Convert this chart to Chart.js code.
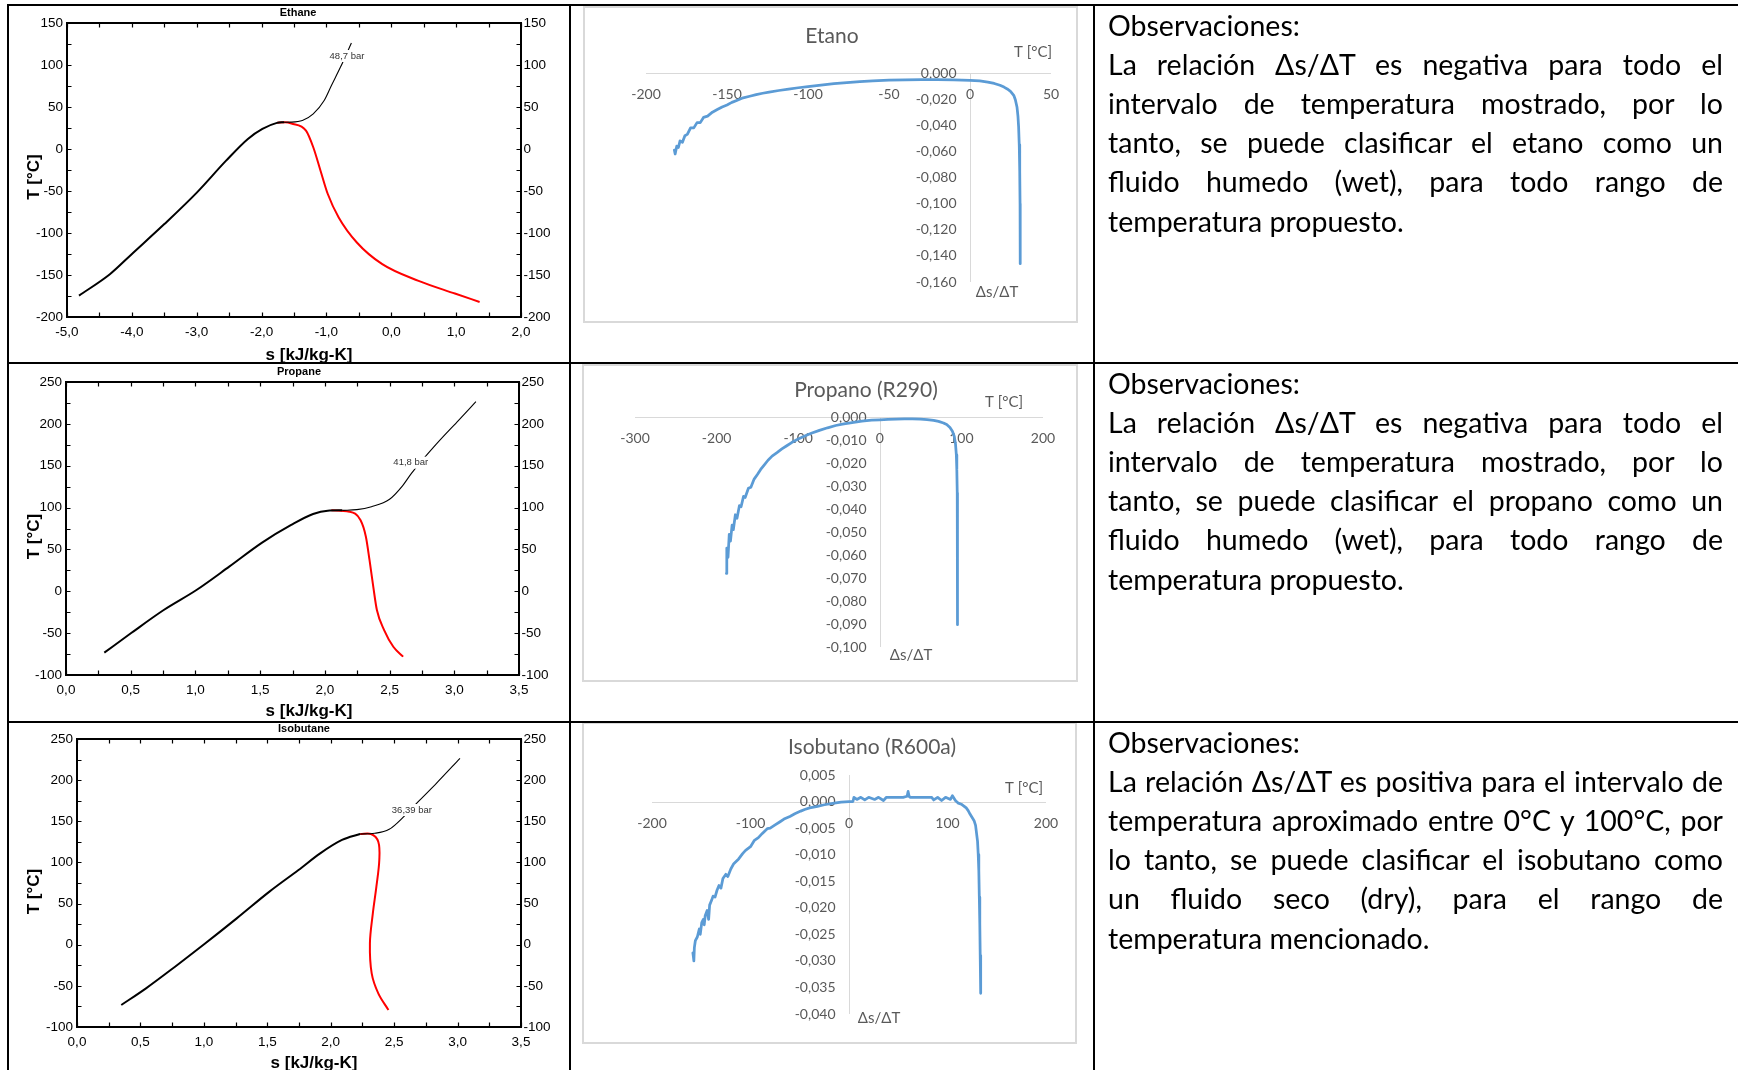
<!DOCTYPE html>
<html lang="es">
<head>
<meta charset="utf-8">
<title>Diagramas T-s y relación Δs/ΔT</title>
<script src="https://cdn.jsdelivr.net/npm/chart.js@4.4.1/dist/chart.umd.min.js"></script>
<style>
  html, body { margin: 0; padding: 0; background: #fff; }
  body { width: 1738px; height: 1070px; position: relative; overflow: hidden; }
  canvas { position: absolute; left: 0; top: 0; }
  .rule { position: absolute; background: #000; z-index: 5; }
  .obs { position: absolute; left: 1108px; width: 615px; z-index: 6;
         font-family: Lato, "Open Sans", sans-serif; font-size: 28.5px; line-height: 39.2px; color: #000; }
  .obs div { white-space: nowrap; }
  .obs .j { white-space: normal; text-align: justify; text-align-last: justify; }
</style>
</head>
<body>
<canvas id="cEthane" width="1738" height="1070"></canvas>
<canvas id="cPropane" width="1738" height="1070"></canvas>
<canvas id="cIsobutane" width="1738" height="1070"></canvas>
<canvas id="cEtano" width="1738" height="1070"></canvas>
<canvas id="cPropano" width="1738" height="1070"></canvas>
<canvas id="cIsobutano" width="1738" height="1070"></canvas>

<!-- table rules -->
<div class="rule" style="left:7px;top:4px;width:1731px;height:2px"></div>
<div class="rule" style="left:7px;top:362px;width:1731px;height:2px"></div>
<div class="rule" style="left:7px;top:721px;width:1731px;height:2px"></div>
<div class="rule" style="left:7px;top:4px;width:2px;height:1066px"></div>
<div class="rule" style="left:569px;top:4px;width:2px;height:1066px"></div>
<div class="rule" style="left:1093px;top:4px;width:2px;height:1066px"></div>

<div class="obs" style="top:5.5px">
  <div>Observaciones:</div>
  <div class="j">La relación Δs/ΔT es negativa para todo el</div>
  <div class="j">intervalo de temperatura mostrado, por lo</div>
  <div class="j">tanto, se puede clasificar el etano como un</div>
  <div class="j">fluido humedo (wet), para todo rango de</div>
  <div>temperatura propuesto.</div>
</div>
<div class="obs" style="top:363.5px">
  <div>Observaciones:</div>
  <div class="j">La relación Δs/ΔT es negativa para todo el</div>
  <div class="j">intervalo de temperatura mostrado, por lo</div>
  <div class="j">tanto, se puede clasificar el propano como un</div>
  <div class="j">fluido humedo (wet), para todo rango de</div>
  <div>temperatura propuesto.</div>
</div>
<div class="obs" style="top:722.5px">
  <div>Observaciones:</div>
  <div class="j">La relación Δs/ΔT es positiva para el intervalo de</div>
  <div class="j">temperatura aproximado entre 0°C y 100°C, por</div>
  <div class="j">lo tanto, se puede clasificar el isobutano como</div>
  <div class="j">un fluido seco (dry), para el rango de</div>
  <div>temperatura mencionado.</div>
</div>

<script>
// ---------- T-s diagrams: s [kJ/kg-K] vs T [°C] ----------
// Ethane
const ethaneLiqS = [-4.815, -4.339, -4.003, -3.499, -2.995, -2.547, -2.211, -1.987, -1.763, -1.65];
const ethaneLiqT = [-174.5, -149.1, -125.2, -89.4, -51.6, -13.9, 12.0, 23.9, 31.1, 31.9];
const ethaneVapS = [-1.76, -1.64, -1.539, -1.315, -1.203, -1.091, -0.979, -0.811, -0.531, -0.139, 0.421, 0.981, 1.362];
const ethaneVapT = [31.3, 31.8, 30.3, 21.9, 2.1, -25.8, -53.6, -81.5, -111.3, -137.1, -157.0, -172.1, -182.1];
const ethaneIsoS = [-1.65, -1.55, -1.371, -1.203, -1.035, -0.923, -0.783, -0.615];
const ethaneIsoT = [31.9, 32.0, 33.9, 41.8, 57.7, 75.6, 97.5, 126.1];
const ethaneXTicks = [-5, -4, -3, -2, -1, 0, 1, 2];
const ethaneYTicks = [-200, -150, -100, -50, 0, 50, 100, 150];

// Propane
const propaneLiqS = [0.296, 0.501, 0.755, 1.008, 1.261, 1.515, 1.740, 1.909, 2.022, 2.134];
const propaneLiqT = [-73.3, -50.2, -22.4, 1.5, 29.4, 58.1, 79.2, 92.3, 96.3, 96.7];
const propaneVapS = [2.05, 2.19, 2.275, 2.317, 2.345, 2.374, 2.402, 2.458, 2.529, 2.605];
const propaneVapT = [96.7, 95.1, 85.1, 65.2, 37.4, 5.5, -22.4, -46.3, -66.2, -78.1];
const propaneIsoS = [2.134, 2.247, 2.360, 2.50, 2.60, 2.669, 2.866, 3.035, 3.167];
const propaneIsoT = [96.7, 97.5, 101.1, 110.0, 126.0, 140.9, 176.7, 204.6, 226.5];
const propaneXTicks = [0, 0.5, 1, 1.5, 2, 2.5, 3, 3.5];
const propaneYTicks = [-100, -50, 0, 50, 100, 150, 200, 250];

// Isobutane
const isobutaneLiqS = [0.349, 0.544, 0.773, 1.002, 1.259, 1.517, 1.746, 1.917, 2.089, 2.232];
const isobutaneLiqT = [-73.3, -53.0, -26.7, 0.5, 32.0, 64.5, 90.8, 111.0, 127.3, 134.5];
const isobutaneVapS = [2.232, 2.318, 2.375, 2.383, 2.360, 2.332, 2.309, 2.323, 2.375, 2.455];
const isobutaneVapT = [134.5, 134.5, 125.2, 103.0, 70.5, 38.1, 1.7, -34.8, -59.1, -79.3];
const isobutaneIsoS = [2.232, 2.347, 2.461, 2.576, 2.690, 2.833, 3.019];
const isobutaneIsoT = [134.5, 135.4, 140.2, 155.6, 173.8, 196.1, 226.5];
const isobutaneXTicks = [0, 0.5, 1, 1.5, 2, 2.5, 3, 3.5];
const isobutaneYTicks = [-100, -50, 0, 50, 100, 150, 200, 250];

// ---------- Δs/ΔT vs T [°C] ----------
const etanoT = [-182.5, -182, -181, -180, -179, -177.5, -176, -174.5, -172.5, -170.5, -168.5, -166.5, -164.5, -162,
  -159, -156, -153, -150, -147, -144, -140, -136, -132, -128, -124, -118, -112, -106, -100, -92, -84, -76, -68, -60,
  -50, -40, -30, -20, -10, 0, 6, 11, 15, 18.5, 21, 23, 25, 27, 28, 29, 29.6, 30, 30.4, 30.7, 30.9, 31];
const etanoDsDt = [-0.059, -0.062, -0.056, -0.057, -0.052, -0.053, -0.048, -0.047, -0.042, -0.042, -0.038, -0.038,
  -0.034, -0.033, -0.030, -0.028, -0.026, -0.0245, -0.0225, -0.021, -0.019, -0.0178, -0.0166, -0.0155, -0.0146,
  -0.0134, -0.0123, -0.0113, -0.0104, -0.0092, -0.0081, -0.0073, -0.0066, -0.0060, -0.0055, -0.0052, -0.0050,
  -0.0051, -0.0053, -0.0056, -0.0061, -0.0070, -0.0080, -0.0094, -0.0108, -0.0122, -0.0140, -0.0171, -0.0205,
  -0.0260, -0.033, -0.041, -0.055, -0.075, -0.100, -0.146];
const etanoXTicks = [-200, -150, -100, -50, 0, 50];
const etanoYTicks = [0, -0.02, -0.04, -0.06, -0.08, -0.10, -0.12, -0.14, -0.16];

const propanoT = [-188, -187.5, -186, -184.5, -183, -181, -179.5, -177, -175, -172, -170, -167, -165, -161, -158,
  -154, -150, -146, -142, -137, -132, -126, -120, -114, -108, -100, -92, -84, -74, -64, -54, -44, -34, -22, -10, 0,
  10, 20, 30, 40, 50, 58, 66, 72, 78, 82, 86, 89, 91.3, 92.8, 93.8, 94.4, 94.9, 95.1, 95.3];
const propanoDsDt = [-0.068, -0.057, -0.061, -0.051, -0.054, -0.047, -0.049, -0.0425, -0.044, -0.0385, -0.039,
  -0.0345, -0.035, -0.031, -0.0305, -0.027, -0.025, -0.0228, -0.0210, -0.0188, -0.0170, -0.0155, -0.0139, -0.0125,
  -0.0111, -0.0096, -0.0083, -0.0071, -0.0058, -0.0047, -0.0037, -0.0030, -0.0024, -0.0018, -0.0014, -0.0012,
  -0.0010, -0.0009, -0.0008, -0.0008, -0.0009, -0.0011, -0.0015, -0.0019, -0.0026, -0.0033, -0.0046, -0.0062,
  -0.0085, -0.0118, -0.0165, -0.0230, -0.0330, -0.0500, -0.0903];
const propanoXTicks = [-300, -200, -100, 0, 100, 200];
const propanoYTicks = [0, -0.01, -0.02, -0.03, -0.04, -0.05, -0.06, -0.07, -0.08, -0.09, -0.10];

const isobutanoT = [-158.5, -158, -157.5, -157, -156, -154, -152, -151, -149.5, -148, -147, -146, -144, -142.5,
  -141.5, -139.5, -138, -136, -134, -132, -130, -128, -125, -123, -120, -117, -112, -108, -105, -100, -96, -92,
  -88, -83, -80, -75, -70, -66, -60, -55, -49, -45, -40, -32, -25, -15, -8, 0, 4, 5, 8, 12, 16, 20, 26, 30, 35,
  38, 45, 55, 59, 60, 61, 62, 75, 84, 86, 90, 94, 98, 103, 105, 108, 111, 114, 117, 119, 121, 123, 125, 127,
  128.5, 129.5, 130.5, 131.2, 131.8, 132.3, 132.8, 133.2, 133.7];
const isobutanoDsDt = [-0.0285, -0.0292, -0.0300, -0.0275, -0.0262, -0.0255, -0.0240, -0.0250, -0.0228, -0.0222,
  -0.0232, -0.0215, -0.0205, -0.0222, -0.0195, -0.0186, -0.0178, -0.0180, -0.0167, -0.0158, -0.0163, -0.0145,
  -0.0137, -0.0141, -0.0127, -0.0117, -0.0108, -0.0098, -0.0092, -0.0085, -0.0073, -0.0068, -0.0060, -0.0051,
  -0.0050, -0.0044, -0.0038, -0.0033, -0.0028, -0.0023, -0.0018, -0.0015, -0.0012, -0.0009, -0.0006, -0.0003,
  -0.0001, 0.0000, 0.0000, 0.0008, 0.0004, 0.0008, 0.0003, 0.0008, 0.0004, 0.0008, 0.0002, 0.0008, 0.0008,
  0.0008, 0.0010, 0.0019, 0.0010, 0.0008, 0.0008, 0.0008, 0.0003, 0.0008, 0.0002, 0.0008, 0.0004, 0.0011,
  0.0002, -0.0003, -0.0005, -0.0009, -0.0012, -0.0017, -0.0024, -0.0030, -0.0036, -0.0045, -0.0060, -0.0075,
  -0.0100, -0.0130, -0.0180, -0.0230, -0.0290, -0.0361];
const isobutanoXTicks = [-200, -100, 0, 100, 200];
const isobutanoYTicks = [0.005, 0, -0.005, -0.01, -0.015, -0.02, -0.025, -0.03, -0.035, -0.04];

// ---------- helpers ----------
const W = 1738, H = 1070;
const pts = (xs, ys) => xs.map((x, i) => ({ x, y: ys[i] }));
const padFor = (r) => ({ left: r[0], top: r[1], right: W - r[2], bottom: H - r[3] });
const comma = (v, d) => v.toFixed(d).replace('.', ',');
const SANS = '"Liberation Sans", Arial, sans-serif';
const LATO = 'Lato, "Open Sans", sans-serif';

// ticks at every label plus one between each pair
function withMinor(ticks) {
  const out = [];
  ticks.forEach((v, i) => {
    out.push(v);
    if (i < ticks.length - 1) out.push((v + ticks[i + 1]) / 2);
  });
  return out;
}

// EES-style boxed frame with inward ticks on all four sides
const eesDecor = {
  id: 'eesDecor',
  afterDatasetsDraw(chart, args, o) {
    const { ctx, chartArea: a, scales: { x, y } } = chart;
    ctx.save();

    // isobar label with a white knock-out behind it
    ctx.font = '9.5px ' + SANS;
    const lx = x.getPixelForValue(o.pLabel[0]), ly = y.getPixelForValue(o.pLabel[1]);
    const tw = ctx.measureText(o.pText).width;
    ctx.fillStyle = '#fff';
    ctx.fillRect(lx - tw / 2 - 1.5, ly - 6, tw + 3, 12);
    ctx.fillStyle = '#333';
    ctx.textAlign = 'center';
    ctx.textBaseline = 'middle';
    ctx.fillText(o.pText, lx, ly);

    ctx.strokeStyle = '#000';
    ctx.lineWidth = 2;
    ctx.strokeRect(a.left, a.top, a.right - a.left, a.bottom - a.top);

    ctx.lineWidth = 1.2;
    ctx.beginPath();
    withMinor(o.xTicks).forEach(v => {
      const px = Math.round(x.getPixelForValue(v)) + 0.5;
      ctx.moveTo(px, a.bottom); ctx.lineTo(px, a.bottom - 4.5);
      ctx.moveTo(px, a.top); ctx.lineTo(px, a.top + 4.5);
    });
    withMinor(o.yTicks).forEach(v => {
      const py = Math.round(y.getPixelForValue(v)) + 0.5;
      ctx.moveTo(a.left, py); ctx.lineTo(a.left + 4.5, py);
      ctx.moveTo(a.right, py); ctx.lineTo(a.right - 4.5, py);
    });
    ctx.stroke();

    ctx.fillStyle = '#000';
    ctx.font = '13.5px ' + SANS;
    ctx.textBaseline = 'middle';
    ctx.textAlign = 'center';
    o.xTicks.forEach(v => ctx.fillText(comma(v, 1), x.getPixelForValue(v), a.bottom + 15.5));
    ctx.textAlign = 'right';
    o.yTicks.forEach(v => ctx.fillText(String(v), a.left - 4, y.getPixelForValue(v)));
    ctx.textAlign = 'left';
    o.yTicks.forEach(v => ctx.fillText(String(v), a.right + 2.5, y.getPixelForValue(v)));

    ctx.textAlign = 'center';
    ctx.font = 'bold 11px ' + SANS;
    ctx.fillText(o.title, o.titleAt[0], o.titleAt[1]);
    ctx.font = 'bold 17px ' + SANS;
    ctx.fillText('s [kJ/kg-K]', o.xTitleAt[0], o.xTitleAt[1]);
    ctx.translate(o.yTitleAt[0], o.yTitleAt[1]);
    ctx.rotate(-Math.PI / 2);
    ctx.fillText('T [°C]', 0, 0);
    ctx.restore();
  }
};

// curves that run left to right use monotone interpolation; the folded
// isobutane vapour line uses plain bezier tension
const smooth = (monotone) => monotone ? { cubicInterpolationMode: 'monotone' } : { tension: 0.35 };

function eesChart(id, liq, vap, iso, xr, yr, plot, deco, vapMonotone) {
  new Chart(document.getElementById(id), {
    type: 'scatter',
    data: {
      datasets: [
        { data: liq, borderColor: '#000', borderWidth: 2, showLine: true, pointRadius: 0, ...smooth(true) },
        { data: iso, borderColor: '#000', borderWidth: 1.1, showLine: true, pointRadius: 0, ...smooth(true) },
        { data: vap, borderColor: '#ff0000', borderWidth: 2, showLine: true, pointRadius: 0, ...smooth(vapMonotone) }
      ]
    },
    options: {
      responsive: false, animation: false, devicePixelRatio: 1, events: [],
      layout: { padding: padFor(plot) },
      scales: {
        x: { type: 'linear', min: xr[0], max: xr[1], display: false },
        y: { type: 'linear', min: yr[0], max: yr[1], display: false }
      },
      plugins: { legend: { display: false }, tooltip: { enabled: false }, eesDecor: deco }
    },
    plugins: [eesDecor]
  });
}

// spreadsheet-style chart with axes crossing at zero
const excelDecor = {
  id: 'excelDecor',
  beforeDatasetsDraw(chart, args, o) {
    const { ctx, chartArea: a, scales: { x, y } } = chart;
    ctx.save();
    ctx.strokeStyle = '#d9d9d9';
    ctx.lineWidth = 2;
    const f = o.frame;
    ctx.strokeRect(f[0], f[1], f[2] - f[0], f[3] - f[1]);

    ctx.lineWidth = 1;
    ctx.beginPath();
    const y0 = Math.round(y.getPixelForValue(0)) + 0.5;
    ctx.moveTo(a.left, y0); ctx.lineTo(a.right, y0);
    const x0 = Math.round(x.getPixelForValue(0)) + 0.5;
    ctx.moveTo(x0, a.top); ctx.lineTo(x0, a.bottom);
    ctx.stroke();

    ctx.fillStyle = '#595959';
    ctx.font = '14px ' + LATO;
    ctx.textBaseline = 'middle';
    ctx.textAlign = 'center';
    o.xTicks.forEach(v => ctx.fillText(String(v), x.getPixelForValue(v), y0 + 21));
    ctx.textAlign = 'right';
    o.yTicks.forEach(v => ctx.fillText(comma(v, 3), x0 - 14, y.getPixelForValue(v)));

    ctx.textAlign = 'center';
    ctx.font = '21px ' + LATO;
    ctx.fillText(o.title, o.titleAt[0], o.titleAt[1]);
    ctx.font = '15px ' + LATO;
    ctx.fillText('T [°C]', o.tAt[0], o.tAt[1]);
    ctx.fillText('Δs/ΔT', o.dAt[0], o.dAt[1]);
    ctx.restore();
  }
};

function excelChart(id, data, xr, yr, plot, deco) {
  new Chart(document.getElementById(id), {
    type: 'scatter',
    data: {
      datasets: [{ data, borderColor: '#5b9bd5', borderWidth: 2.75, showLine: true, pointRadius: 0,
                   tension: 0, borderJoinStyle: 'round', borderCapStyle: 'round' }]
    },
    options: {
      responsive: false, animation: false, devicePixelRatio: 1, events: [],
      layout: { padding: padFor(plot) },
      scales: {
        x: { type: 'linear', min: xr[0], max: xr[1], display: false },
        y: { type: 'linear', min: yr[0], max: yr[1], display: false }
      },
      plugins: { legend: { display: false }, tooltip: { enabled: false }, excelDecor: deco }
    },
    plugins: [excelDecor]
  });
}

// ---------- left column ----------
eesChart('cEthane', pts(ethaneLiqS, ethaneLiqT), pts(ethaneVapS, ethaneVapT), pts(ethaneIsoS, ethaneIsoT),
  [-5, 2], [-200, 150], [67, 23, 521, 317],
  { xTicks: ethaneXTicks, yTicks: ethaneYTicks, title: 'Ethane', titleAt: [298, 13],
    xTitleAt: [309, 355], yTitleAt: [34.5, 177], pText: '48,7 bar', pLabel: [-0.683, 110.7] }, true);

eesChart('cPropane', pts(propaneLiqS, propaneLiqT), pts(propaneVapS, propaneVapT), pts(propaneIsoS, propaneIsoT),
  [0, 3.5], [-100, 250], [66, 382, 519, 675],
  { xTicks: propaneXTicks, yTicks: propaneYTicks, title: 'Propane', titleAt: [299, 372],
    xTitleAt: [309, 711.5], yTitleAt: [34.5, 536.5], pText: '41,8 bar', pLabel: [2.664, 153.6] }, true);

eesChart('cIsobutane', pts(isobutaneLiqS, isobutaneLiqT), pts(isobutaneVapS, isobutaneVapT), pts(isobutaneIsoS, isobutaneIsoT),
  [0, 3.5], [-100, 250], [77, 739, 521, 1027],
  { xTicks: isobutaneXTicks, yTicks: isobutaneYTicks, title: 'Isobutane', titleAt: [304, 729],
    xTitleAt: [314, 1063], yTitleAt: [34.5, 891.5], pText: '36,39 bar', pLabel: [2.640, 163.7] }, false);

// ---------- middle column ----------
excelChart('cEtano', pts(etanoT, etanoDsDt), [-200, 50], [-0.16, 0], [646, 73, 1051, 282],
  { frame: [584, 7, 1077, 322], xTicks: etanoXTicks, yTicks: etanoYTicks, title: 'Etano',
    titleAt: [832, 36], tAt: [1033, 52], dAt: [997, 292] });

excelChart('cPropano', pts(propanoT, propanoDsDt), [-300, 200], [-0.1, 0], [635, 417, 1043, 647],
  { frame: [583, 365, 1077, 681], xTicks: propanoXTicks, yTicks: propanoYTicks, title: 'Propano (R290)',
    titleAt: [866, 390], tAt: [1004, 402], dAt: [911, 655] });

excelChart('cIsobutano', pts(isobutanoT, isobutanoDsDt), [-200, 200], [-0.04, 0.005], [652, 775, 1046, 1014],
  { frame: [583, 723, 1076, 1043], xTicks: isobutanoXTicks, yTicks: isobutanoYTicks, title: 'Isobutano (R600a)',
    titleAt: [872, 747], tAt: [1024, 788], dAt: [879, 1018] });
</script>
</body>
</html>
